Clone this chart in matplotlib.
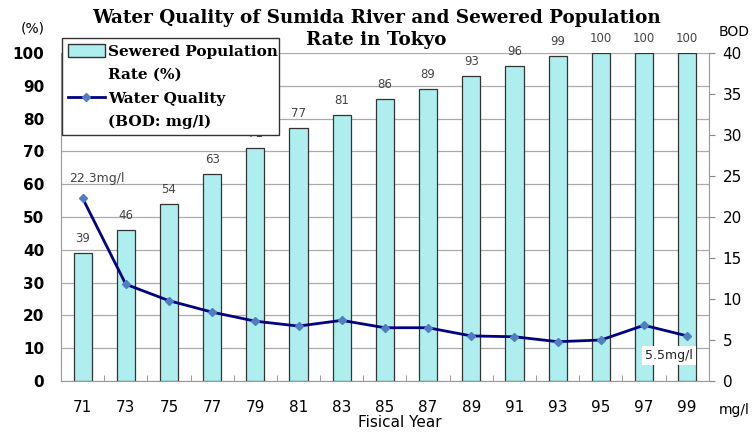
import numpy as np
import matplotlib.pyplot as plt
from matplotlib.patches import Patch
from matplotlib.lines import Line2D

# datos
years = ['71', '73', '75', '77', '79', '81', '83', '85', '87', '89', '91', '93', '95', '97', '99']
sewered = [39, 46, 54, 63, 71, 77, 81, 86, 89, 93, 96, 99, 100, 100, 100]
bod = [22.3, 11.8, 9.8, 8.4, 7.3, 6.7, 7.4, 6.5, 6.5, 5.5, 5.4, 4.8, 5.0, 6.8, 5.5]

x = np.arange(len(years))

fig = plt.figure(figsize=(7.55, 4.33), dpi=100)
ax = fig.add_axes([0.0808, 0.120, 0.858, 0.7576])
ax2 = ax.twinx()

bar_color = '#aeeeee'
line_color = '#000080'
marker_color = '#4f7fc0'

ax.bar(x, sewered, width=0.42, color=bar_color, edgecolor='#333333', linewidth=0.9, zorder=2)
for xi, v in zip(x, sewered):
    ax.text(xi, v + 2.5, str(v), ha='center', va='bottom', fontsize=8.5, color='#444444')

ax.set_xlim(-0.5, len(years) - 0.5)
ax.set_ylim(0, 100)
ax.set_yticks(np.arange(0, 101, 10))
ax.set_yticklabels([str(v) for v in range(0, 101, 10)], fontsize=11, fontweight='bold')
ax.yaxis.grid(True, color='#aaaaaa', linewidth=0.9, zorder=0)
ax.set_axisbelow(True)
ax.tick_params(axis='y', length=0, pad=12)
ax.set_xticks(x)
ax.set_xticklabels(years, fontsize=11)
ax.set_xticks(np.arange(-0.5, len(years), 1), minor=True)
ax.tick_params(axis='x', which='major', length=0, pad=14)
ax.tick_params(axis='x', which='minor', length=4, color='#888888', direction='in')
ax.set_xlabel('Fisical Year', fontsize=11, labelpad=0)
ax.xaxis.set_label_coords(0.523, -0.105)

for s in ['top', 'right']:
    ax.spines[s].set_visible(False)
ax.spines['left'].set_color('#999999')
ax.spines['bottom'].set_color('#999999')

ax2.plot(x, bod, color=line_color, linewidth=2, marker='D', markersize=4.5,
         markerfacecolor=marker_color, markeredgecolor=marker_color, zorder=5)
ax2.set_ylim(0, 40)
ax2.set_yticks(np.arange(0, 41, 5))
ax2.set_yticklabels([str(v) for v in range(0, 41, 5)], fontsize=11)
ax2.tick_params(axis='y', length=4, color='#888888', pad=6)
for s in ['top', 'left', 'bottom']:
    ax2.spines[s].set_visible(False)
ax2.spines['right'].set_color('#999999')

ax2.annotate('22.3mg/l', (0, bod[0]), xytext=(10, 14), textcoords='offset points',
             ha='center', va='center', fontsize=9, color='#444444')
ax2.annotate('5.5mg/l', (14, bod[-1]), xytext=(-13, -14), textcoords='offset points',
             ha='center', va='center', fontsize=9, color='#222222',
             bbox=dict(facecolor='white', edgecolor='none', pad=2))

fig.text(0.043, 0.925, '(%)', fontsize=10, ha='center')
fig.text(0.973, 0.918, 'BOD', fontsize=10, ha='center')
fig.text(0.973, 0.045, 'mg/l', fontsize=10, ha='center')

fig.text(0.499, 0.948, 'Water Quality of Sumida River and Sewered Population',
         fontsize=13.2, fontweight='bold', family='DejaVu Serif', ha='center')
fig.text(0.499, 0.895, 'Rate in Tokyo',
         fontsize=13.2, fontweight='bold', family='DejaVu Serif', ha='center')

# leyenda: una fila por línea de texto, marcador solo en la primera
blank = Line2D([], [], alpha=0)
handles = [Patch(facecolor=bar_color, edgecolor='#333333'), blank,
           Line2D([0], [0], color=line_color, linewidth=2, marker='D', markersize=4,
                  markerfacecolor=marker_color, markeredgecolor=marker_color), blank]
labels = ['Sewered Population', 'Rate (%)', 'Water Quality', '(BOD: mg/l)']
leg = ax2.legend(handles, labels, loc='upper left', bbox_to_anchor=(0.0015, 0, 0.335, 1.046),
                 mode='expand', borderaxespad=0, frameon=True, fancybox=False, framealpha=1,
                 prop={'family': 'DejaVu Serif', 'weight': 'bold', 'size': 11},
                 handlelength=2.4, handleheight=0.9, handletextpad=0.2,
                 borderpad=0.4, labelspacing=0.58)
leg.get_frame().set_edgecolor('#333333')
leg.get_frame().set_linewidth(1)
leg.set_zorder(10)

plt.savefig('out.png')
